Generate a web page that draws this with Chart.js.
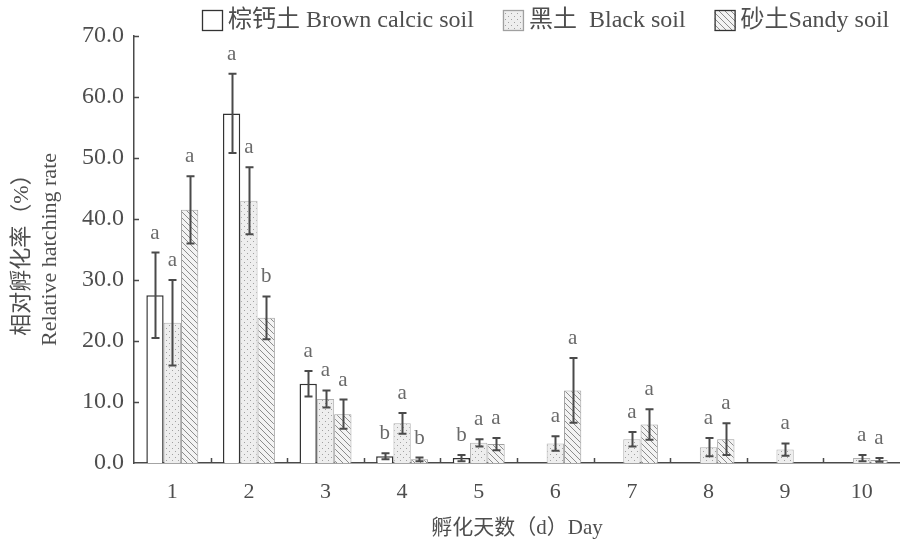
<!DOCTYPE html>
<html><head><meta charset="utf-8">
<script src="https://cdn.jsdelivr.net/npm/chart.js@4.4.1/dist/chart.umd.min.js"></script>
<style>html,body{margin:0;padding:0;background:#fff}#wrap{width:900px;height:542px;position:relative}</style>
</head><body><div id="wrap"><canvas id="c"></canvas></div>
<script>
// ---- data ----
const days = ['1','2','3','4','5','6','7','8','9','10'];
const seriesLabels = ['棕钙土 Brown calcic soil', '黑土  Black soil', '砂土Sandy soil'];
const brown    = [27.5, 57.3, 13.0, 1.1, 0.8, null, null, null, null, null];
const brownErr = [7.0, 6.5, 2.1, 0.5, 0.5, 0, 0, 0, 0, 0];
const black    = [23.0, 43.0, 10.5, 6.5, 3.3, 3.2, 3.9, 2.6, 2.2, 0.8];
const blackErr = [7.0, 5.5, 1.4, 1.7, 0.6, 1.2, 1.2, 1.5, 1.0, 0.5];
const sandy    = [41.5, 23.8, 8.0, 0.6, 3.1, 11.9, 6.3, 3.9, null, 0.5];
const sandyErr = [5.5, 3.5, 2.4, 0.3, 1.0, 5.3, 2.5, 2.6, 0, 0.3];
const brownSig = ['a','a','a','b','b','','','','',''];
const blackSig = ['a','a','a','a','a','a','a','a','a','a'];
const sandySig = ['a','b','a','b','a','a','a','a','','a'];
const yTickValues = [0, 10, 20, 30, 40, 50, 60, 70];
const xTitle = '孵化天数（d）Day';
const yTitle = ['相对孵化率（%）', 'Relative hatching rate'];

const errs = [brownErr, blackErr, sandyErr];
const sigs = [brownSig, blackSig, sandySig];

const canvas = document.getElementById('c');
const mainCtx = canvas.getContext('2d');

function dotPattern() {
  const c = document.createElement('canvas'); c.width = 6; c.height = 6;
  const g = c.getContext('2d');
  g.fillStyle = '#eeeeee'; g.fillRect(0, 0, 6, 6);
  g.fillStyle = '#a0a0a0'; g.fillRect(1, 1, 1, 1); g.fillRect(4, 4, 1, 1);
  return mainCtx.createPattern(c, 'repeat');
}
function hatchPattern() {
  const c = document.createElement('canvas'); c.width = 6; c.height = 6;
  const g = c.getContext('2d');
  g.fillStyle = '#f3f3f3'; g.fillRect(0, 0, 6, 6);
  g.strokeStyle = '#8c8c8c'; g.lineWidth = 1;
  g.beginPath();
  g.moveTo(-1, -1); g.lineTo(7, 7);
  g.moveTo(-1, 5); g.lineTo(1, 7);
  g.moveTo(5, -1); g.lineTo(7, 1);
  g.stroke();
  return mainCtx.createPattern(c, 'repeat');
}

const serif = "'Liberation Serif', 'Noto Sans CJK SC', serif";
const textCol = '#4e4e4e';

const extras = {
  id: 'extras',
  afterDatasetsDraw(chart) {
    const { ctx, scales: { x, y } } = chart;
    ctx.save();
    ctx.strokeStyle = '#4a4a4a';
    ctx.lineWidth = 2;
    chart.data.datasets.forEach((ds, di) => {
      const meta = chart.getDatasetMeta(di);
      meta.data.forEach((bar, i) => {
        const v = ds.data[i];
        if (v == null) return;
        const e = errs[di][i];
        const top = y.getPixelForValue(v + e);
        const bot = y.getPixelForValue(Math.max(0, v - e));
        const bx = Math.round(bar.x) + 0.5;
        ctx.beginPath();
        ctx.moveTo(bx, top); ctx.lineTo(bx, bot);
        ctx.moveTo(bx - 4, top); ctx.lineTo(bx + 4, top);
        ctx.moveTo(bx - 4, bot); ctx.lineTo(bx + 4, bot);
        ctx.stroke();
        const s = sigs[di][i];
        if (s) {
          ctx.fillStyle = '#6a6a6a';
          ctx.font = "21px " + serif;
          ctx.textAlign = 'center';
          ctx.textBaseline = 'alphabetic';
          ctx.fillText(s, bar.x, top - 14);
        }
      });
    });
    ctx.restore();
  },
  afterDraw(chart) {
    const { ctx, scales: { x, y }, chartArea } = chart;
    ctx.save();
    ctx.strokeStyle = '#4a4a4a';
    ctx.lineWidth = 1.5;
    ctx.beginPath();
    yTickValues.forEach(v => {
      if (v === 0) return;
      const py = Math.round(y.getPixelForValue(v)) + 0.5;
      ctx.moveTo(chartArea.left, py); ctx.lineTo(chartArea.left + 5, py);
    });
    const n = days.length;
    const w = (chartArea.right - chartArea.left) / n;
    for (let i = 1; i < n; i++) {
      const px = Math.round(x.getPixelForValue(i) - w / 2) + 0.5;
      ctx.moveTo(px, chartArea.bottom); ctx.lineTo(px, chartArea.bottom - 5);
    }
    ctx.stroke();
    // legend
    ctx.font = "24px " + serif;
    ctx.textBaseline = 'middle';
    ctx.textAlign = 'left';
    let lx = 202;
    const boxBorders = ['#333333', '#a0a0a0', '#333333'];
    chart.data.datasets.forEach((ds, di) => {
      ctx.fillStyle = ds.backgroundColor;
      ctx.fillRect(lx, 10, 21, 21);
      ctx.strokeStyle = boxBorders[di];
      ctx.lineWidth = 1.3;
      ctx.strokeRect(lx + 0.5, 10.5, 20, 20);
      ctx.fillStyle = textCol;
      ctx.fillText(ds.label, lx + 26, 21);
      lx += 26 + ctx.measureText(ds.label).width + 29;
    });
    ctx.restore();
  }
};

new Chart(canvas, {
  type: 'bar',
  data: {
    labels: days,
    datasets: [
      { label: seriesLabels[0], data: brown, backgroundColor: '#ffffff', borderColor: '#333333', borderWidth: 1.5 },
      { label: seriesLabels[1], data: black, backgroundColor: dotPattern(), borderColor: '#b0b0b0', borderWidth: 1 },
      { label: seriesLabels[2], data: sandy, backgroundColor: hatchPattern(), borderColor: '#a0a0a0', borderWidth: 1 }
    ]
  },
  options: {
    responsive: true,
    maintainAspectRatio: false,
    animation: false,
    layout: { padding: { left: 8, top: 36, right: 0, bottom: 0 } },
    datasets: { bar: { categoryPercentage: 0.678, barPercentage: 1.0 } },
    plugins: { legend: { display: false }, tooltip: { enabled: false } },
    scales: {
      x: {
        grid: { display: false, drawTicks: false },
        border: { display: true, color: '#4a4a4a', width: 1.5 },
        ticks: { color: textCol, font: { family: serif, size: 22 }, padding: 16 },
        title: { display: true, text: xTitle, color: textCol, font: { family: serif, size: 21 }, padding: { top: 0, bottom: 1 } },
        afterFit(scale) { scale.height = 79; }
      },
      y: {
        min: 0, max: 70,
        grid: { display: false, drawTicks: false },
        border: { display: true, color: '#4a4a4a', width: 1.5 },
        afterBuildTicks(scale) { scale.ticks = yTickValues.map(v => ({ value: v })); },
        ticks: { color: textCol, font: { family: serif, size: 24 }, padding: 10, callback: v => Number(v).toFixed(1) },
        title: { display: true, text: yTitle, color: textCol, font: { family: serif, size: 22, lineHeight: 28 / 22 }, padding: { top: 0, bottom: 0 } },
        afterFit(scale) { scale.width = 126; }
      }
    }
  },
  plugins: [extras]
});
</script>
</body></html>
